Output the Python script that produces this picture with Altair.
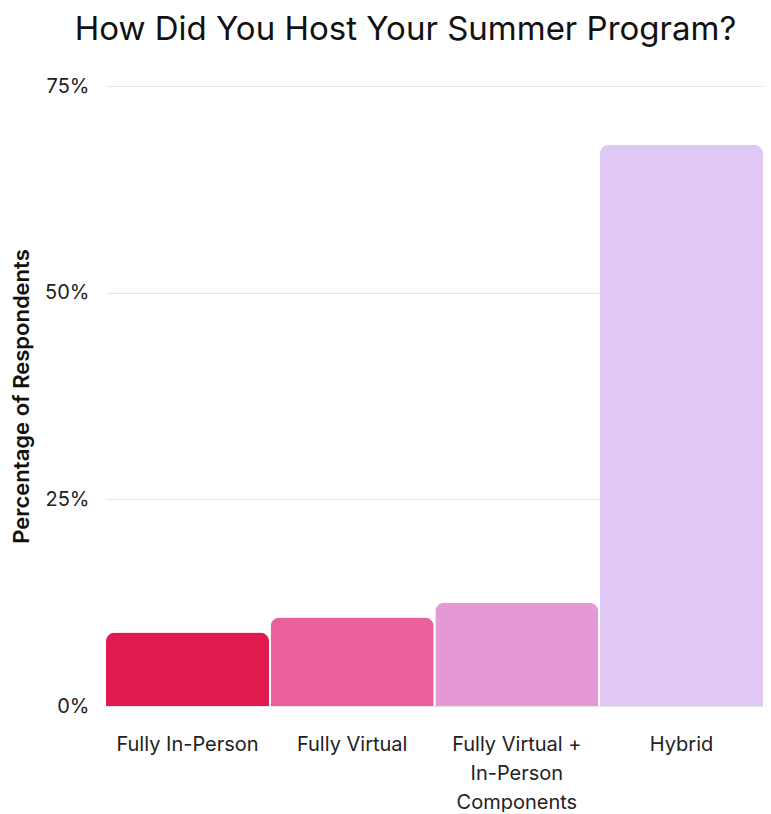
import altair as alt
import pandas as pd

categories = ["Fully In-Person", "Fully Virtual", "Fully Virtual + In-Person Components", "Hybrid"]
values = [8.9, 10.7, 12.5, 67.9]
colors = ["#E01A4F", "#EA619D", "#E498D6", "#DFC8F5"]

df = pd.DataFrame({"category": categories, "value": [v / 100 for v in values]})

FONT = "Inter"

chart = alt.Chart(df).mark_bar(
    cornerRadiusTopLeft=9, cornerRadiusTopRight=9
).encode(
    x=alt.X("category:N", sort=categories,
            scale=alt.Scale(paddingInner=0.01, paddingOuter=0),
            axis=alt.Axis(title=None, labelAngle=0, domain=False, ticks=False,
                          labelFontSize=20, labelColor="#222222", labelFont=FONT,
                          labelPadding=38, labelLineHeight=29, labelBaseline="middle",
                          labelLimit=0,
                          labelExpr="datum.label == 'Fully Virtual + In-Person Components' ? ['Fully Virtual +', 'In-Person', 'Components'] : datum.label")),
    y=alt.Y("value:Q", scale=alt.Scale(domain=[0, 0.75]),
            axis=alt.Axis(title="Percentage of Respondents", format=".0%", values=[0, 0.25, 0.5, 0.75],
                          domain=False, ticks=False, labelFontSize=20, labelColor="#222222",
                          labelFont=FONT, labelPadding=17, gridColor="#e4e4e4",
                          titleFontSize=22, titleFont=FONT, titleFontWeight=600,
                          titleColor="#111111", titlePadding=11)),
    color=alt.Color("category:N", sort=categories,
                    scale=alt.Scale(domain=categories, range=colors), legend=None),
).properties(
    width=657, height=620,
    title=alt.TitleParams("How Did You Host Your Summer Program?", fontSize=33,
                          font=FONT, fontWeight="normal", color="#111111",
                          anchor="middle", offset=29, dx=-29),
    padding={"left": 2, "top": 6, "right": 0, "bottom": 0},
).configure_view(stroke=None)

chart.save("out.html", embed_options={"renderer": "svg", "actions": False})
